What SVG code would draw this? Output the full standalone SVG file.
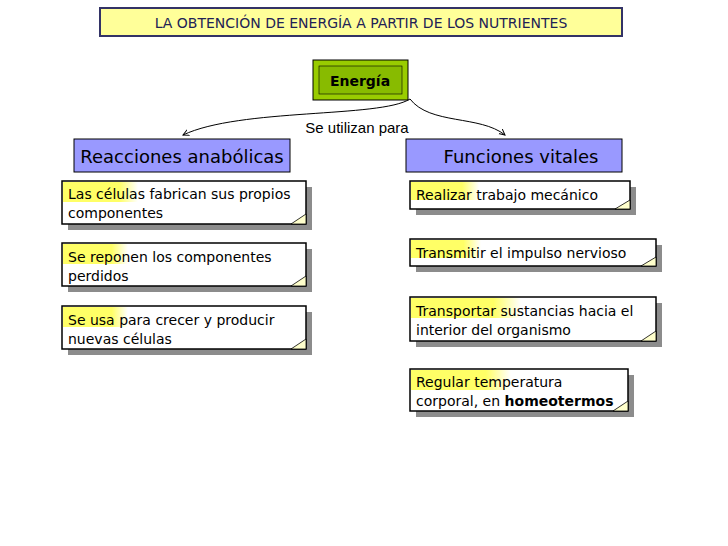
<svg xmlns="http://www.w3.org/2000/svg" width="728" height="546" viewBox="0 0 728 546">
<style>
.n{fill:#fff;stroke:#000;stroke-width:1.5}
.sh{fill:#8c8c8c}
.t{font-family:"DejaVu Sans",sans-serif;font-size:14px;fill:#000}
.h{fill:#9999ff;stroke:#000;stroke-width:1}
.ht{font-family:"DejaVu Sans",sans-serif;font-size:18px;fill:#000}
.fold{fill:#ffffcc;stroke:#000;stroke-width:0.8}
</style>
<defs>
<linearGradient id="hl" x1="0" x2="1" y1="0" y2="0">
<stop offset="0" stop-color="#ffff66"/><stop offset="0.75" stop-color="#ffff66"/><stop offset="1" stop-color="#ffff66" stop-opacity="0"/>
</linearGradient>
<marker id="a" markerWidth="8" markerHeight="8" refX="6" refY="4" orient="auto"><path d="M0,1 L6,4 L0,7" fill="none" stroke="#000"/></marker>
</defs>
<g id="title">
<rect x="100" y="8" width="522" height="28" fill="#ffff99" stroke="#333366" stroke-width="2"/>
<text x="361" y="28" text-anchor="middle" font-family="Verdana,'DejaVu Sans',sans-serif" font-size="14" fill="#222255">LA OBTENCIÓN DE ENERGÍA A PARTIR DE LOS NUTRIENTES</text>
</g>
<g id="energia">
<rect x="313" y="60" width="95" height="40" fill="#99cc00" stroke="#000"/>
<rect x="319" y="66" width="83" height="28" fill="#88bb00" stroke="#000" stroke-width="0.6"/>
<text x="360" y="86" text-anchor="middle" class="t" font-weight="bold" font-size="15">Energía</text>
</g>
<g id="connectors" fill="none" stroke="#000" stroke-width="1">
<path d="M410,99 C380,118 240,108 183,135" marker-end="url(#a)"/>
<path d="M410,99 C430,125 480,115 505,135" marker-end="url(#a)"/>
<text x="357" y="133" text-anchor="middle" font-family="'Liberation Sans',Arial,sans-serif" font-size="15" fill="#000" stroke="none">Se utilizan para</text>
</g>
<g id="anabolicas"><rect class="h" x="74" y="139" width="216" height="33"/><text class="ht" x="182" y="163" text-anchor="middle">Reacciones anabólicas</text></g>
<g id="vitales"><rect class="h" x="406" y="139" width="216" height="33"/><text class="ht" x="521" y="163" text-anchor="middle">Funciones vitales</text></g>

<g id="a1"><rect class="sh" x="68" y="187" width="244" height="43"/><rect class="n" x="62" y="181" width="244" height="43"/><rect x="63" y="182" width="75" height="20" fill="url(#hl)"/><path class="fold" d="M291,224 L306,214 L306,224 Z"/><text class="t" x="68" y="199">Las células fabrican sus propios</text><text class="t" x="68" y="218">componentes</text></g>
<g id="a2"><rect class="sh" x="68" y="249" width="244" height="43"/><rect class="n" x="62" y="243" width="244" height="43"/><rect x="63" y="244" width="65" height="20" fill="url(#hl)"/><path class="fold" d="M291,286 L306,276 L306,286 Z"/><text class="t" x="68" y="262">Se reponen los componentes</text><text class="t" x="68" y="281">perdidos</text></g>
<g id="a3"><rect class="sh" x="68" y="312" width="244" height="43"/><rect class="n" x="62" y="306" width="244" height="43"/><rect x="63" y="307" width="65" height="20" fill="url(#hl)"/><path class="fold" d="M291,349 L306,339 L306,349 Z"/><text class="t" x="68" y="325">Se usa para crecer y producir</text><text class="t" x="68" y="344">nuevas células</text></g>

<g id="v1"><rect class="sh" x="416" y="187" width="220" height="28"/><rect class="n" x="410" y="181" width="220" height="28"/><rect x="411" y="182" width="68" height="18" fill="url(#hl)"/><path class="fold" d="M615,209 L630,200 L630,209 Z"/><text class="t" x="416" y="200">Realizar trabajo mecánico</text></g>
<g id="v2"><rect class="sh" x="416" y="245" width="246" height="27"/><rect class="n" x="410" y="239" width="246" height="27"/><rect x="411" y="240" width="70" height="18" fill="url(#hl)"/><path class="fold" d="M641,266 L656,257 L656,266 Z"/><text class="t" x="416" y="258">Transmitir el impulso nervioso</text></g>
<g id="v3"><rect class="sh" x="416" y="303" width="246" height="44"/><rect class="n" x="410" y="297" width="246" height="44"/><rect x="411" y="298" width="110" height="20" fill="url(#hl)"/><path class="fold" d="M641,341 L656,331 L656,341 Z"/><text class="t" x="416" y="316">Transportar sustancias hacia el</text><text class="t" x="416" y="335">interior del organismo</text></g>
<g id="v4"><rect class="sh" x="416" y="375" width="218" height="42"/><rect class="n" x="410" y="369" width="218" height="42"/><rect x="411" y="370" width="100" height="20" fill="url(#hl)"/><path class="fold" d="M613,411 L628,401 L628,411 Z"/><text class="t" x="416" y="387">Regular temperatura</text><text class="t" x="416" y="406">corporal, en <tspan font-weight="bold">homeotermos</tspan></text></g>
</svg>
